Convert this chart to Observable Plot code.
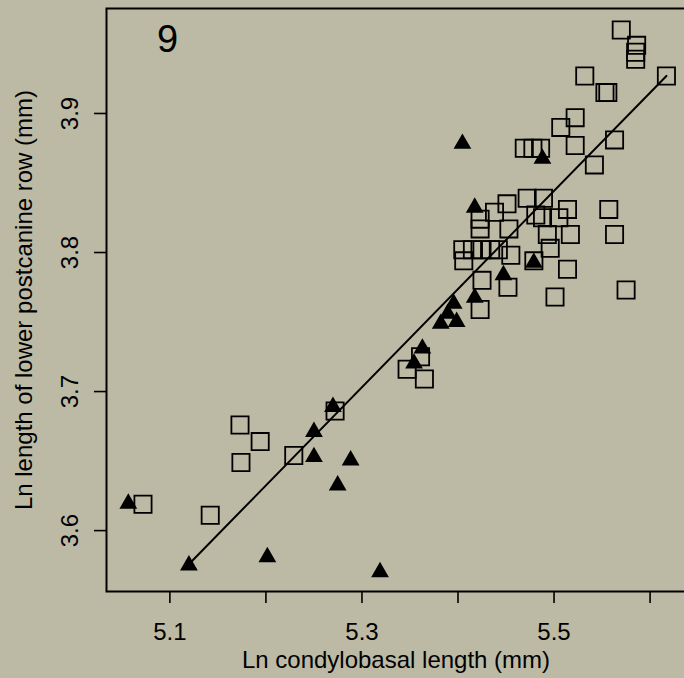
<!DOCTYPE html>
<html><head><meta charset="utf-8">
<script src="https://cdn.jsdelivr.net/npm/d3@7"></script>
<script src="https://cdn.jsdelivr.net/npm/@observablehq/plot@0.6"></script>
<style>
html,body{margin:0;padding:0;background:#bcbaa4;}
#chart svg{display:block;}
</style></head><body>
<div id="chart"></div>
<script>
const squareX = [5.570,5.586,5.585,5.585,5.532,5.553,5.556,5.617,5.522,5.507,5.563,5.522,5.469,5.478,5.486,5.542,
  5.451,5.472,5.489,5.514,5.557,5.438,5.423,5.423,5.481,5.488,5.505,5.453,5.493,5.517,5.563,
  5.405,5.415,5.425,5.434,5.442,5.406,5.455,5.496,5.479,5.514,5.425,5.452,5.501,5.575,5.423,
  5.361,5.347,5.365,5.272,5.173,5.194,5.174,5.229,5.072,5.142];
const squareY = [3.960,3.949,3.944,3.939,3.927,3.915,3.915,3.927,3.897,3.890,3.881,3.877,3.875,3.875,3.875,3.863,
  3.835,3.839,3.839,3.831,3.831,3.829,3.824,3.817,3.827,3.825,3.825,3.817,3.813,3.813,3.813,
  3.802,3.802,3.802,3.802,3.802,3.794,3.798,3.803,3.794,3.788,3.780,3.775,3.768,3.773,3.759,
  3.725,3.716,3.709,3.686,3.676,3.664,3.649,3.654,3.619,3.611];
const triangleX = [5.4046,5.4879,5.4174,5.4789,5.4473,5.4174,5.3955,5.3893,5.3820,5.3986,5.3629,5.3542,
  5.2698,5.2500,5.2500,5.2882,5.2747,5.0567,5.1198,5.2015,5.3188];
const triangleY = [3.8783,3.8675,3.8323,3.7927,3.7838,3.7675,3.7632,3.7560,3.7488,3.7502,3.7310,3.7202,
  3.6890,3.6710,3.6530,3.6506,3.6326,3.6194,3.5750,3.5810,3.5702];
const lineX = [5.120, 5.617];
const lineY = [3.576, 3.927];
const xTicks = [5.1, 5.2, 5.3, 5.4, 5.5, 5.6];
const xTickLabels = ["5.1", "", "5.3", "", "5.5", ""];
const yTicks = [3.6, 3.7, 3.8, 3.9];
const yTickLabels = ["3.6", "3.7", "3.8", "3.9"];
const panelLabel = "9";
const xTitle = "Ln condylobasal length (mm)";
const yTitle = "Ln length of lower postcanine row (mm)";

const squares = squareX.map((x, i) => ({x, y: squareY[i]}));
const triangles = triangleX.map((x, i) => ({x, y: triangleY[i]}));
const fitLine = lineX.map((x, i) => ({x, y: lineY[i]}));
const xLab = d => xTickLabels[xTicks.findIndex(t => Math.abs(t - d) < 1e-9)] ?? "";

const chart = Plot.plot({
  width: 684,
  height: 678,
  marginLeft: 106,
  marginRight: -4,
  marginTop: 8,
  marginBottom: 87,
  style: {background: "#bcbaa4", fontFamily: "'Liberation Sans', Arial, Helvetica, sans-serif", fontSize: "24px", color: "black"},
  x: {domain: [5.034, 5.64]},
  y: {domain: [3.5562, 3.9755]},
  marks: [
    Plot.axisX({ticks: xTicks, tickSize: 12, tickPadding: 19, tickFormat: xLab, label: null, strokeWidth: 1.6, fontSize: 24}),
    Plot.axisY({ticks: yTicks, tickSize: 12, tickFormat: () => "", label: null, strokeWidth: 1.6}),
    Plot.text(yTicks, {y: d => d, text: (d, i) => yTickLabels[i], frameAnchor: "left", dx: -28.7, rotate: -90, textAnchor: "middle", lineAnchor: "bottom", fontSize: 24}),
    Plot.text([yTitle], {text: d => d, frameAnchor: "left", dx: -74.3, rotate: -90, textAnchor: "middle", lineAnchor: "bottom", fontSize: 24}),
    Plot.text([xTitle], {text: d => d, frameAnchor: "bottom", dx: -1.5, dy: 76, lineAnchor: "bottom", textAnchor: "middle", fontSize: 24}),
    Plot.text([panelLabel], {text: d => d, frameAnchor: "top-left", dx: 61, dy: 43, lineAnchor: "bottom", textAnchor: "middle", fontSize: 38}),
    Plot.dot(squares, {x: "x", y: "y", symbol: "square", r: 9.7, stroke: "black", strokeWidth: 1.8, fill: "none"}),
    Plot.line(fitLine, {x: "x", y: "y", stroke: "black", strokeWidth: 2}),
    Plot.dot(triangles, {x: "x", y: "y", symbol: "triangle", r: 6.6, fill: "black", stroke: "none"}),
    Plot.frame({stroke: "black", strokeWidth: 2})
  ]
});
document.getElementById("chart").appendChild(chart);
</script>
</body></html>
